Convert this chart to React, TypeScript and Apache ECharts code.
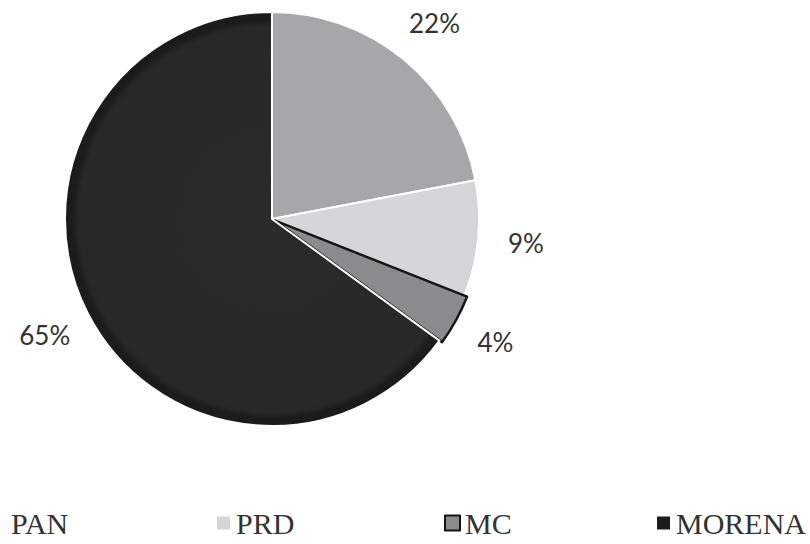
import React, { useEffect, useRef } from "react";
import * as echarts from "echarts";

const categories = ["PAN", "PRD", "MC", "MORENA"];
const values = [22, 9, 4, 65];
const colors = ["#a7a7a9", "#d6d6d8", "#8b8b8d", "#262626"];
const legendLeft = [-15, 210, 439, 650];

export default function App() {
  const ref = useRef<HTMLDivElement>(null);
  useEffect(() => {
    if (!ref.current) return;
    const chart = echarts.init(ref.current, undefined, { renderer: "svg" });
    const cx = 272;
    const cy = 219;
    const r = 207;
    const moreNaFill = {
      type: "radial",
      x: cx,
      y: cy,
      r: r,
      global: true,
      colorStops: [
        { offset: 0, color: "#2b2b2b" },
        { offset: 0.93, color: "#282828" },
        { offset: 0.965, color: "#1b1b1b" },
        { offset: 1, color: "#1b1b1b" },
      ],
    };
    const mainData = categories.map((name, i) => ({
      name,
      value: values[i],
      selected: name === "MC",
      itemStyle: {
        color: name === "MORENA" ? moreNaFill : colors[i],
        borderColor: name === "MC" ? "#151515" : "#ffffff",
        borderWidth: name === "MC" ? 2.5 : 2,
      },
    }));
    const labelData = categories.map((name, i) => ({ name, value: values[i] }));
    const legends = categories.map((name, i) => ({
      data: [
        name === "PAN"
          ? { name, itemStyle: { opacity: 0 } }
          : { name },
      ],
      left: legendLeft[i],
      top: 503,
      orient: "horizontal",
      itemWidth: 15,
      itemHeight: 15,
      icon: "rect",
      selectedMode: false,
      textStyle: {
        fontFamily: "Liberation Serif",
        fontSize: 30,
        color: "#333333",
      },
    }));
    chart.setOption({
      animation: false,
      backgroundColor: "#ffffff",
      legend: legends,
      series: [
        {
          type: "pie",
          center: [cx, cy],
          radius: [0, r],
          startAngle: 90,
          clockwise: true,
          selectedMode: "single",
          selectedOffset: 3,
          label: { show: false },
          labelLine: { show: false },
          emphasis: { disabled: true },
          data: mainData,
        },
        {
          type: "pie",
          center: [cx, cy],
          radius: [228, 276],
          startAngle: 90,
          clockwise: true,
          silent: true,
          itemStyle: { color: "rgba(0,0,0,0)", borderWidth: 0 },
          label: {
            show: true,
            position: "inside",
            formatter: "{c}%",
            fontFamily: "Lato",
            fontSize: 26,
            color: "#333333",
          },
          labelLine: { show: false },
          emphasis: { disabled: true },
          data: labelData,
        },
      ],
    });
    return () => chart.dispose();
  }, []);
  return (
    <div
      ref={ref}
      style={{ position: "fixed", left: 0, top: 0, width: 810, height: 544 }}
    />
  );
}
